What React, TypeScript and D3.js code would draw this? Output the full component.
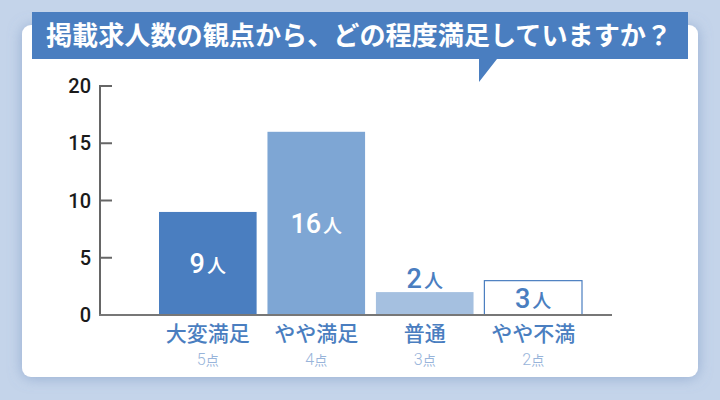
import { useEffect, useRef } from "react";
import * as d3 from "d3";

// chart data
const categories = ["大変満足", "やや満足", "普通", "やや不満"];
const points = ["5", "4", "3", "2"];
const values = [9, 16, 2, 3];
const yTicks = [0, 5, 10, 15, 20];
const title = "掲載求人数の観点から、どの程度満足していますか？";

const W = 720;
const H = 400;
const blue = "#4a7ec0";
const barFill = ["#4a7ec0", "#7ea6d4", "#a5c0e0", "#ffffff"];
const labelFill = ["#ffffff", "#ffffff", blue, blue];
const jp = "'Noto Sans CJK JP', 'Noto Sans', sans-serif";
const num = "Roboto, 'Noto Sans', sans-serif";

function drawChart(svg: any) {
  svg.selectAll("*").remove();

  const defs = svg.append("defs");
  const f = defs
    .append("filter")
    .attr("id", "cardShadow")
    .attr("x", "-10%")
    .attr("y", "-10%")
    .attr("width", "120%")
    .attr("height", "120%");
  f.append("feDropShadow")
    .attr("dx", 0)
    .attr("dy", 1)
    .attr("stdDeviation", 7)
    .attr("flood-color", "#6f8fbd")
    .attr("flood-opacity", 0.55);

  // background + card
  svg.append("rect").attr("width", W).attr("height", H).attr("fill", "#c4d4ea");
  svg
    .append("rect")
    .attr("x", 22)
    .attr("y", 25)
    .attr("width", 676)
    .attr("height", 352)
    .attr("rx", 9)
    .attr("fill", "white")
    .attr("filter", "url(#cardShadow)");

  // title banner with pointer
  svg
    .append("path")
    .attr("d", "M32,12 H688 V59 H497 L479,82 V59 H32 Z")
    .attr("fill", blue);
  svg
    .append("text")
    .attr("x", 46)
    .attr("y", 45)
    .attr("textLength", 626)
    .attr("lengthAdjust", "spacingAndGlyphs")
    .style("font-family", jp)
    .style("font-weight", 700)
    .style("font-size", "26px")
    .attr("fill", "white")
    .text(title);

  // scales
  const y = d3.scaleLinear().domain([0, 20]).range([315, 86]);
  const x = d3
    .scaleBand()
    .domain(categories)
    .range([159, 582])
    .paddingInner(0.1)
    .paddingOuter(0);

  // y axis
  const axisX = 100;
  svg
    .append("line")
    .attr("x1", axisX)
    .attr("x2", axisX)
    .attr("y1", y(20) - 1)
    .attr("y2", y(0))
    .attr("stroke", "#666")
    .attr("stroke-width", 2);

  const tick = svg
    .selectAll(".ytick")
    .data(yTicks)
    .enter()
    .append("g")
    .attr("class", "ytick")
    .attr("transform", (d: number) => "translate(0," + y(d) + ")");
  tick
    .append("line")
    .attr("x1", axisX)
    .attr("x2", axisX + 12)
    .attr("stroke", "#666")
    .attr("stroke-width", 2);
  tick
    .append("text")
    .attr("x", 91)
    .attr("dy", "0.36em")
    .attr("text-anchor", "end")
    .style("font-family", num)
    .style("font-weight", 500)
    .style("font-size", "20px")
    .attr("fill", "#1a1a1a")
    .text((d: number) => d);

  // bars
  svg
    .selectAll(".bar")
    .data(values)
    .enter()
    .append("rect")
    .attr("class", "bar")
    .attr("x", (_: number, i: number) => x(categories[i]) as number)
    .attr("y", (d: number) => y(d))
    .attr("width", x.bandwidth())
    .attr("height", (d: number) => y(0) - y(d))
    .attr("fill", (_: number, i: number) => barFill[i])
    .attr("stroke", (_: number, i: number) => (i === 3 ? blue : "none"))
    .attr("stroke-width", 1.2);

  // x axis line
  svg
    .append("line")
    .attr("x1", axisX - 1)
    .attr("x2", 612)
    .attr("y1", y(0))
    .attr("y2", y(0))
    .attr("stroke", "#777")
    .attr("stroke-width", 2);

  // value labels
  const vl = svg
    .selectAll(".vlabel")
    .data(values)
    .enter()
    .append("text")
    .attr("class", "vlabel")
    .attr("x", (_: number, i: number) => (x(categories[i]) as number) + x.bandwidth() / 2)
    .attr("y", (d: number) => (d >= 3 ? (y(d) + y(0)) / 2 + 10 : y(d) - 4))
    .attr("text-anchor", "middle")
    .attr("fill", (_: number, i: number) => labelFill[i]);
  vl.append("tspan")
    .style("font-family", num)
    .style("font-weight", 500)
    .style("font-size", "27px")
    .text((d: number) => d);
  vl.append("tspan")
    .attr("dx", 2)
    .style("font-family", jp)
    .style("font-weight", 500)
    .style("font-size", "19px")
    .text("人");

  // category labels
  const cl = svg
    .selectAll(".cat")
    .data(categories)
    .enter()
    .append("g")
    .attr("class", "cat")
    .attr("transform", (d: string) => "translate(" + ((x(d) as number) + x.bandwidth() / 2) + ",0)");
  cl.append("text")
    .attr("y", 341)
    .attr("text-anchor", "middle")
    .style("font-family", jp)
    .style("font-weight", 500)
    .style("font-size", "21px")
    .attr("fill", blue)
    .text((d: string) => d);
  const sub = cl
    .append("text")
    .attr("y", 365)
    .attr("text-anchor", "middle")
    .attr("fill", "#98b4da");
  sub
    .append("tspan")
    .style("font-family", num)
    .style("font-weight", 300)
    .style("font-size", "16px")
    .text((_: string, i: number) => points[i]);
  sub
    .append("tspan")
    .style("font-family", jp)
    .style("font-size", "13px")
    .text("点");
}

export default function App() {
  const ref = useRef<SVGSVGElement | null>(null);

  useEffect(() => {
    if (ref.current) drawChart(d3.select(ref.current));
  }, []);

  return (
    <svg
      ref={ref}
      width={W}
      height={H}
      style={{ position: "absolute", left: 0, top: 0, display: "block" }}
    ></svg>
  );
}
